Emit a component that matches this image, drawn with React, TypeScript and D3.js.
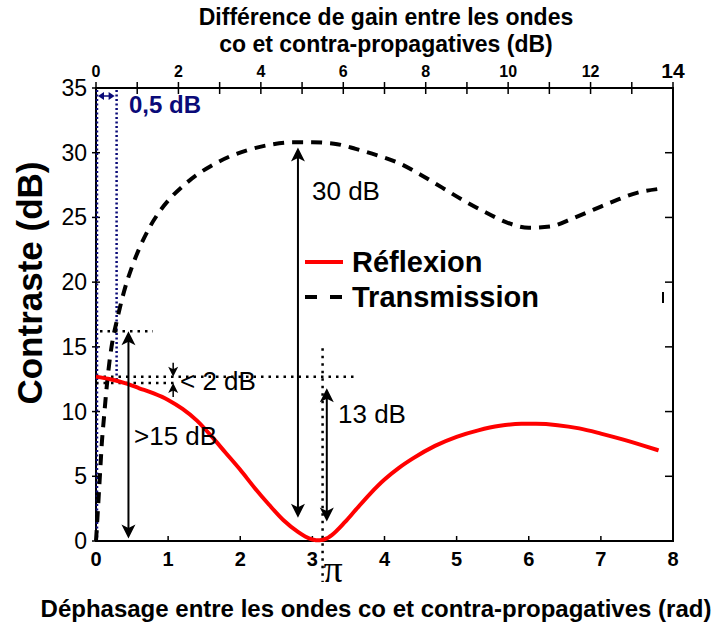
import * as d3 from "d3";

// Réflexion (red) — phase (rad) vs contrast (dB)
const reflX = [0, 0.2, 0.4, 0.6, 0.8, 1.0, 1.2, 1.4, 1.6, 1.8, 2.0, 2.2, 2.4, 2.6, 2.8, 2.9, 3.0, 3.1, 3.2, 3.3, 3.45, 3.6, 3.8, 4.0, 4.2, 4.4, 4.7, 5.0, 5.3, 5.6, 5.9, 6.1, 6.4, 6.7, 7.0, 7.3, 7.6, 7.8];
const reflY = [12.7, 12.5, 12.2, 11.8, 11.4, 10.9, 10.2, 9.3, 8.1, 6.8, 5.5, 4.1, 2.8, 1.6, 0.7, 0.35, 0.12, 0.05, 0.2, 0.6, 1.45, 2.4, 3.65, 4.75, 5.65, 6.4, 7.35, 8.05, 8.55, 8.9, 9.05, 9.05, 8.95, 8.7, 8.3, 7.85, 7.35, 7.0];

// Transmission (black dashed)
const transX = [0, 0.02, 0.04, 0.06, 0.08, 0.11, 0.15, 0.19, 0.23, 0.28, 0.33, 0.4, 0.5, 0.6, 0.75, 0.9, 1.05, 1.2, 1.4, 1.6, 1.85, 2.1, 2.4, 2.7, 3.0, 3.3, 3.6, 3.9, 4.2, 4.5, 4.8, 5.1, 5.4, 5.7, 6.0, 6.3, 6.6, 6.9, 7.2, 7.5, 7.8];
const transY = [0, 1.8, 3.7, 5.6, 7.5, 9.5, 12.0, 14.0, 15.5, 16.8, 18.0, 19.5, 21.2, 22.6, 24.3, 25.6, 26.6, 27.4, 28.3, 29.0, 29.7, 30.2, 30.6, 30.8, 30.8, 30.7, 30.3, 29.8, 29.2, 28.3, 27.3, 26.3, 25.4, 24.6, 24.2, 24.3, 24.9, 25.6, 26.3, 26.9, 27.2];

const bottomTicks = [0, 1, 2, 3, 4, 5, 6, 7, 8];
const topTicks = [0, 1, 2, 3, 4, 5, 6, 7, 8, 9, 10, 11, 12, 13, 14];
const topLabels = [0, 2, 4, 6, 8, 10, 12, 14];
const yTicks = [0, 5, 10, 15, 20, 25, 30, 35];

const FONT = "Arial, 'Liberation Sans', sans-serif";
const NAVY = "#0a0a78";

function Head({ x, y, dir, size = 7, len = 14 }: { x: number; y: number; dir: "up" | "down"; size?: number; len?: number }) {
  // filled arrow head, tip at (x, y)
  const notch = len * 0.75;
  const s = dir === "up" ? 1 : -1;
  const d = `M${x},${y} L${x - size},${y + s * len} L${x},${y + s * notch} L${x + size},${y + s * len} Z`;
  return <path d={d} fill="black" />;
}

export default function App() {
  const width = 718;
  const height = 626;
  const left = 96, right = 673, top = 88, bottom = 541;

  const x = d3.scaleLinear().domain([0, 8]).range([left, right]);
  const xTop = d3.scaleLinear().domain([0, 14]).range([left, right]);
  const y = d3.scaleLinear().domain([0, 35]).range([bottom, top]);

  const lineGen = d3
    .line<[number, number]>()
    .x((d) => x(d[0]))
    .y((d) => y(d[1]))
    .curve(d3.curveMonotoneX);
  const refl = lineGen(reflX.map((v, i) => [v, reflY[i]]));
  const trans = lineGen(transX.map((v, i) => [v, transY[i]]));

  const dot = { stroke: "black", strokeWidth: 2.5, strokeDasharray: "2.5 5" };

  const a30x = x(2.8);
  const a13x = x(3.2);
  const a15x = x(0.45);
  const a2x = x(1.07);

  return (
    <div style={{ position: "absolute", left: 0, top: 0 }}>
      <svg width={width} height={height} style={{ display: "block", background: "white" }}>
        {/* titles */}
        <text x={386} y={25} textAnchor="middle" fontFamily={FONT} fontWeight="bold" fontSize={23}>
          Différence de gain entre les ondes
        </text>
        <text x={386} y={52} textAnchor="middle" fontFamily={FONT} fontWeight="bold" fontSize={23}>
          co et contra-propagatives (dB)
        </text>
        <text x={376} y={617} textAnchor="middle" fontFamily={FONT} fontWeight="bold" fontSize={24}>
          Déphasage entre les ondes co et contra-propagatives (rad)
        </text>
        <text
          transform={`translate(42, ${283}) rotate(-90)`}
          textAnchor="middle"
          fontFamily={FONT}
          fontWeight="bold"
          fontSize={35}
        >
          Contraste (dB)
        </text>

        {/* top axis */}
        {topTicks.map((t) => (
          <line key={"tt" + t} x1={xTop(t)} x2={xTop(t)} y1={top - 6} y2={top + 6} stroke="black" strokeWidth={1.5} />
        ))}
        {topLabels.map((t) => (
          <text
            key={"tl" + t}
            x={xTop(t)}
            y={t === 14 ? 78 : 77}
            textAnchor="middle"
            fontFamily={FONT}
            fontWeight="bold"
            fontSize={t === 14 ? 21 : 16}
          >
            {t}
          </text>
        ))}

        {/* bottom axis */}
        {bottomTicks.map((t) => (
          <g key={"bt" + t}>
            <line x1={x(t)} x2={x(t)} y1={bottom} y2={bottom - 5} stroke="black" strokeWidth={1.5} />
            <text x={x(t)} y={566} textAnchor="middle" fontFamily={FONT} fontWeight="bold" fontSize={20}>
              {t}
            </text>
          </g>
        ))}

        {/* left / right axes */}
        {yTicks.map((t) => (
          <g key={"yt" + t}>
            <line x1={left - 4} x2={left + 4} y1={y(t)} y2={y(t)} stroke="black" strokeWidth={1.5} />
            <line x1={right - 8} x2={right} y1={y(t)} y2={y(t)} stroke="black" strokeWidth={1.5} />
            <text x={87} y={y(t) + 8} textAnchor="end" fontFamily={FONT} fontSize={23}>
              {t}
            </text>
          </g>
        ))}
        <rect x={left} y={top} width={right - left} height={bottom - top} fill="none" stroke="black" strokeWidth={2} />
        <line x1={663} x2={663} y1={292} y2={303} stroke="black" strokeWidth={2} />

        {/* navy 0.5 dB guides */}
        <line x1={xTop(0) + 1} x2={xTop(0) + 1} y1={y(35) + 2} y2={bottom} stroke={NAVY} strokeWidth={2.5} strokeDasharray="2 2.5" />
        <line x1={xTop(0.5)} x2={xTop(0.5)} y1={y(35) + 2} y2={y(12.5)} stroke={NAVY} strokeWidth={2.5} strokeDasharray="2 2.5" />
        <line x1={xTop(0) + 4} x2={xTop(0.5) - 4} y1={96} y2={96} stroke={NAVY} strokeWidth={1.5} />
        <path d={`M${xTop(0) + 2},96 l6,-4 l0,8 Z`} fill={NAVY} />
        <path d={`M${xTop(0.5) - 2},96 l-6,-4 l0,8 Z`} fill={NAVY} />
        <text x={129} y={113} fontFamily={FONT} fontWeight="bold" fontSize={24} fill={NAVY}>
          0,5 dB
        </text>

        {/* dotted guides */}
        <line x1={left + 4} x2={153} y1={y(16.2)} y2={y(16.2)} {...dot} />
        <line x1={left} x2={358} y1={y(12.7)} y2={y(12.7)} {...dot} />
        <line x1={left} x2={176} y1={y(12.2)} y2={y(12.2)} {...dot} />
        <line x1={x(Math.PI)} x2={x(Math.PI)} y1={y(14.9)} y2={582} {...dot} />

        {/* curves */}
        <path d={trans ?? ""} fill="none" stroke="black" strokeWidth={4} strokeDasharray="11 8" />
        <path d={refl ?? ""} fill="none" stroke="#ff0000" strokeWidth={4} />

        {/* >15 dB arrow */}
        <line x1={a15x} x2={a15x} y1={y(16.2) + 8} y2={y(0.2) - 8} stroke="black" strokeWidth={2} />
        <Head x={a15x} y={y(16.2)} dir="up" />
        <Head x={a15x} y={y(0.2)} dir="down" />
        <text x={134} y={445} fontFamily={FONT} fontSize={26}>
          {">15 dB"}
        </text>

        {/* < 2 dB */}
        <line x1={a2x} x2={a2x} y1={y(12.7) - 14} y2={y(12.7) - 4} stroke="black" strokeWidth={1.5} />
        <Head x={a2x} y={y(12.7)} dir="down" size={5} len={10} />
        <line x1={a2x} x2={a2x} y1={y(12.2) + 4} y2={y(12.2) + 14} stroke="black" strokeWidth={1.5} />
        <Head x={a2x} y={y(12.2)} dir="up" size={5} len={10} />
        <text x={180} y={390} fontFamily={FONT} fontSize={26}>
          {"< 2 dB"}
        </text>

        {/* 30 dB arrow */}
        <line x1={a30x} x2={a30x} y1={y(30.4) + 8} y2={y(1.8) - 8} stroke="black" strokeWidth={2} />
        <Head x={a30x} y={y(30.4)} dir="up" />
        <Head x={a30x} y={y(1.8)} dir="down" />
        <text x={312} y={200} fontFamily={FONT} fontSize={26}>
          30 dB
        </text>

        {/* 13 dB arrow */}
        <line x1={a13x} x2={a13x} y1={y(11.8) + 8} y2={y(1.5) - 8} stroke="black" strokeWidth={2} />
        <Head x={a13x} y={y(11.8)} dir="up" />
        <Head x={a13x} y={y(1.5)} dir="down" />
        <text x={338} y={423} fontFamily={FONT} fontSize={26}>
          13 dB
        </text>

        <text x={333} y={582} textAnchor="middle" fontFamily="'Liberation Serif', 'DejaVu Serif', serif" fontSize={38}>
          π
        </text>

        {/* legend */}
        <line x1={305} x2={343} y1={262} y2={262} stroke="#ff0000" strokeWidth={4} />
        <text x={352} y={272} fontFamily={FONT} fontWeight="bold" fontSize={29}>
          Réflexion
        </text>
        <line x1={305} x2={343} y1={297} y2={297} stroke="black" strokeWidth={4} strokeDasharray="12 13" />
        <text x={352} y={307} fontFamily={FONT} fontWeight="bold" fontSize={29}>
          Transmission
        </text>
      </svg>
    </div>
  );
}
